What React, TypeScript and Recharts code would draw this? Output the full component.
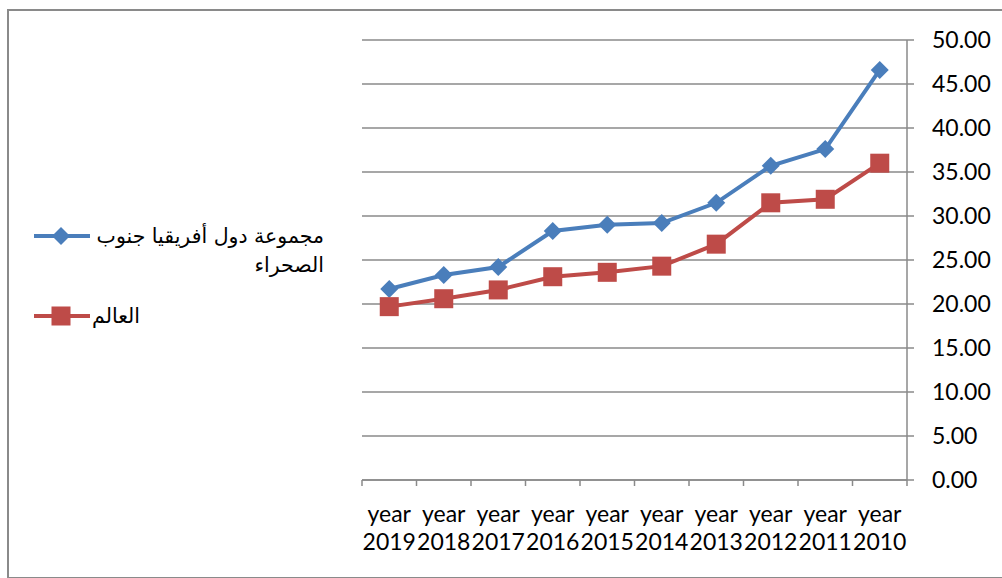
import React from "react";
import { LineChart, Line, XAxis, YAxis, CartesianGrid } from "recharts";

const categories = [
  "year 2019",
  "year 2018",
  "year 2017",
  "year 2016",
  "year 2015",
  "year 2014",
  "year 2013",
  "year 2012",
  "year 2011",
  "year 2010",
];

// مجموعة دول أفريقيا جنوب الصحراء
const ssaValues = [21.7, 23.3, 24.2, 28.3, 29.0, 29.2, 31.5, 35.7, 37.6, 46.6];
// العالم
const worldValues = [19.7, 20.6, 21.6, 23.1, 23.6, 24.3, 26.8, 31.5, 31.9, 36.0];

const yTicks = [0, 5, 10, 15, 20, 25, 30, 35, 40, 45, 50];

const SSA_NAME = "مجموعة دول أفريقيا جنوب الصحراء";
const WORLD_NAME = "العالم";

const BLUE = "#4A7EBB";
const RED = "#BE4B48";
const GRID = "#8a8a8a";
const TICK_FONT = "Lato, 'Open Sans', sans-serif";

const data = categories.map((c, i) => ({
  year: c,
  ssa: ssaValues[i],
  world: worldValues[i],
}));

function Diamond({ cx, cy, size = 9, color }: any) {
  return (
    <path
      d={`M${cx},${cy - size} L${cx + size},${cy} L${cx},${cy + size} L${cx - size},${cy} Z`}
      fill={color}
    />
  );
}

function Square({ cx, cy, size = 9.5, color }: any) {
  return (
    <rect x={cx - size} y={cy - size} width={size * 2} height={size * 2} fill={color} />
  );
}

// tick marks sit on the category boundaries, label wraps to two lines
function YearTick(props: any) {
  const { x, y, payload, index, visibleTicksCount } = props;
  const half = payload.offset || 27.25;
  const [word, num] = String(payload.value).split(" ");
  const last = index === visibleTicksCount - 1;
  return (
    <g>
      <line x1={x - half} x2={x - half} y1={y} y2={y + 6} stroke={GRID} strokeWidth={1.5} />
      {last && (
        <line x1={x + half} x2={x + half} y1={y} y2={y + 6} stroke={GRID} strokeWidth={1.5} />
      )}
      <text textAnchor="middle" fill="#000" fontSize={23} fontFamily={TICK_FONT}>
        <tspan x={x} y={y + 42}>
          {word}
        </tspan>
        <tspan x={x} y={y + 70}>
          {num}
        </tspan>
      </text>
    </g>
  );
}

function LegendItem({ name, color, marker, top, width }: any) {
  return (
    <div style={{ position: "absolute", left: 34, top, display: "flex", alignItems: "flex-start" }}>
      <svg width={58} height={28} style={{ flex: "none" }}>
        <line x1={0} x2={56} y1={14} y2={14} stroke={color} strokeWidth={4} />
        {marker === "diamond" ? (
          <Diamond cx={27} cy={14} size={9} color={color} />
        ) : (
          <Square cx={27} cy={14} size={9.5} color={color} />
        )}
      </svg>
      <span
        style={{
          display: "inline-block",
          width,
          direction: "rtl",
          textAlign: "right",
          fontFamily: "'DejaVu Sans', sans-serif",
          fontSize: 20.5,
          lineHeight: "29px",
          color: "#000",
        }}
      >
        {name}
      </span>
    </div>
  );
}

export default function App() {
  return (
    <div
      style={{
        position: "absolute",
        left: 0,
        top: 0,
        width: 1002,
        height: 578,
        overflow: "hidden",
        background: "#fff",
      }}
    >
      <div
        style={{
          position: "absolute",
          left: 7,
          top: 9,
          width: 1010,
          height: 566,
          border: `2px solid ${GRID}`,
        }}
      />
      <LineChart
        width={1002}
        height={578}
        data={data}
        margin={{ top: 40, right: 0, bottom: 20, left: 362 }}
      >
        <CartesianGrid vertical={false} stroke={GRID} strokeWidth={1.5} />
        <XAxis
          dataKey="year"
          scale="band"
          height={78}
          tickSize={0}
          tickMargin={0}
          axisLine={{ stroke: GRID, strokeWidth: 1.5 }}
          tickLine={false}
          interval={0}
          tick={<YearTick />}
        />
        <YAxis
          orientation="right"
          width={95}
          domain={[0, 50]}
          ticks={yTicks}
          interval={0}
          tickFormatter={(v: number) => v.toFixed(2)}
          tickSize={7}
          tickMargin={18}
          axisLine={{ stroke: GRID, strokeWidth: 1.5 }}
          tickLine={{ stroke: GRID, strokeWidth: 1.5 }}
          tick={{ fill: "#000", fontSize: 23, fontFamily: TICK_FONT }}
        />
        <Line
          dataKey="ssa"
          name={SSA_NAME}
          stroke={BLUE}
          strokeWidth={4}
          isAnimationActive={false}
          dot={(p: any) => <Diamond key={`d${p.index}`} cx={p.cx} cy={p.cy} color={BLUE} />}
          activeDot={false}
        />
        <Line
          dataKey="world"
          name={WORLD_NAME}
          stroke={RED}
          strokeWidth={4}
          isAnimationActive={false}
          dot={(p: any) => <Square key={`s${p.index}`} cx={p.cx} cy={p.cy} color={RED} />}
          activeDot={false}
        />
      </LineChart>
      <LegendItem name={SSA_NAME} color={BLUE} marker="diamond" top={222} width={232} />
      <LegendItem name={WORLD_NAME} color={RED} marker="square" top={302} />
    </div>
  );
}
